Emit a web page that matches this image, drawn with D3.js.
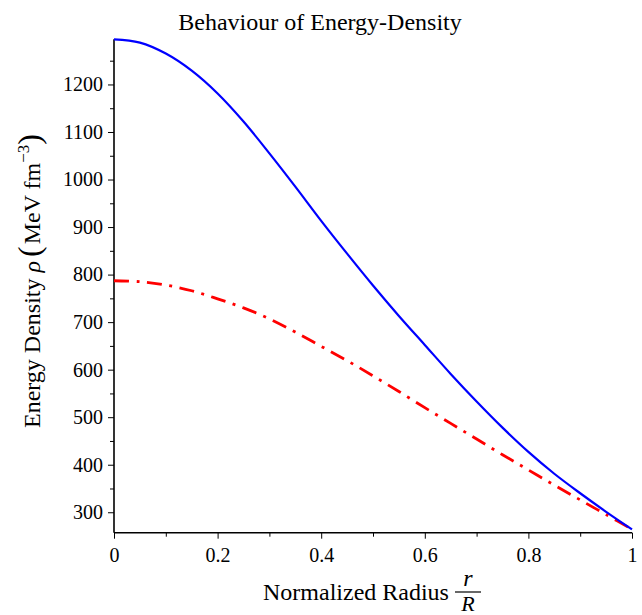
<!DOCTYPE html>
<html>
<head>
<meta charset="utf-8">
<script src="https://cdn.jsdelivr.net/npm/d3@7"></script>
<style>
  body { margin: 0; background: #fff; }
  svg { display: block; font-family: "Liberation Serif", "Times New Roman", serif; }
</style>
</head>
<body>
<svg id="chart"></svg>
<script>
// normalized radius r/R
const radius = [0, 0.05, 0.1, 0.15, 0.2, 0.25, 0.3, 0.35, 0.4, 0.45, 0.5,
                0.55, 0.6, 0.65, 0.7, 0.75, 0.8, 0.85, 0.9, 0.95, 1];
// energy density, MeV fm^-3
const densitySolid = [1295, 1288, 1265, 1229, 1181, 1122, 1055, 985, 913, 844, 777,
                      713, 652, 591, 533, 478, 427, 381, 340, 301, 264];
const densityDash  = [787, 785, 778, 766, 749, 730, 707, 679, 649, 619, 587,
                      554, 520, 487, 454, 421, 389, 357, 326, 295, 264];

const xTicks = [0, 0.2, 0.4, 0.6, 0.8, 1];
const xMinor = [0.1, 0.3, 0.5, 0.7, 0.9];
const yTicks = [300, 400, 500, 600, 700, 800, 900, 1000, 1100, 1200];
const yMinor = [350, 450, 550, 650, 750, 850, 950, 1050, 1150, 1250];
const yRange = [257, 1295];

const width = 642, height = 615;
const svg = d3.select("#chart").attr("width", width).attr("height", height);

const x = d3.scaleLinear().domain([0, 1]).range([114, 632]);
const y = d3.scaleLinear().domain(yRange).range([532.7, 39.3]);

// title
svg.append("text")
    .attr("x", 320).attr("y", 30)
    .attr("text-anchor", "middle")
    .attr("font-size", 24)
    .text("Behaviour of Energy-Density");

// axes
const xAxis = svg.append("g").attr("transform", `translate(0,${y(yRange[0])})`);
xAxis.call(d3.axisBottom(x).tickValues(xTicks).tickSize(6).tickPadding(9)
    .tickFormat(d => d3.format("~g")(d)));
const xMinorG = svg.append("g").attr("transform", `translate(0,${y(yRange[0])})`);
xMinorG.call(d3.axisBottom(x).tickValues(xMinor).tickSize(4).tickFormat(""));
xMinorG.select(".domain").remove();

const yAxis = svg.append("g").attr("transform", `translate(${x(0)},0)`);
yAxis.call(d3.axisLeft(y).tickValues(yTicks).tickSize(6).tickPadding(5).tickFormat(d3.format("d")));
const yMinorG = svg.append("g").attr("transform", `translate(${x(0)},0)`);
yMinorG.call(d3.axisLeft(y).tickValues(yMinor).tickSize(4).tickFormat(""));
yMinorG.select(".domain").remove();

svg.selectAll(".domain").attr("stroke", "#000").attr("stroke-width", 1.6);
// plain axis lines, no end caps
xAxis.select(".domain").attr("d", `M${x(0)},0H${x(1)}`);
yAxis.select(".domain").attr("d", `M0,${y(yRange[0])}V${y(yRange[1])}`);
svg.selectAll(".tick line").attr("stroke", "#000").attr("stroke-width", 1);
svg.selectAll(".tick text")
    .attr("font-family", "Liberation Serif, serif")
    .attr("font-size", 20)
    .attr("fill", "#000");

// curves
const line = d3.line()
    .x((d, i) => x(radius[i]))
    .y(d => y(d))
    .curve(d3.curveCatmullRom);

svg.append("path")
    .attr("d", line(densityDash))
    .attr("fill", "none")
    .attr("stroke", "#ff0000")
    .attr("stroke-width", 2.8)
    .attr("stroke-dasharray", "15,7.5,3,7.5");

svg.append("path")
    .attr("d", line(densitySolid))
    .attr("fill", "none")
    .attr("stroke", "#0000ff")
    .attr("stroke-width", 2.2);

// x label with fraction r/R
svg.append("text")
    .attr("x", 263).attr("y", 600)
    .attr("font-size", 24)
    .text("Normalized Radius");
const fracX = 468;
svg.append("text").attr("x", fracX).attr("y", 586)
    .attr("text-anchor", "middle").attr("font-size", 24).attr("font-style", "italic").text("r");
svg.append("line")
    .attr("x1", fracX - 13).attr("x2", fracX + 13)
    .attr("y1", 592).attr("y2", 592)
    .attr("stroke", "#000").attr("stroke-width", 1.2);
svg.append("text").attr("x", fracX).attr("y", 611)
    .attr("text-anchor", "middle").attr("font-size", 22).attr("font-style", "italic").text("R");

// y label
const yl = svg.append("text")
    .attr("transform", "translate(40,281) rotate(-90)")
    .attr("text-anchor", "middle")
    .attr("font-size", 24);
yl.append("tspan").text("Energy Density ");
yl.append("tspan").attr("font-style", "italic").text("ρ");
yl.append("tspan").attr("font-size", 32).attr("dx", 4).text("(");
yl.append("tspan").attr("dx", 2).text("MeV fm");
yl.append("tspan").attr("font-size", 17).attr("dy", -11).text("−3");
yl.append("tspan").attr("font-size", 32).attr("dy", 11).text(")");
</script>
</body>
</html>
